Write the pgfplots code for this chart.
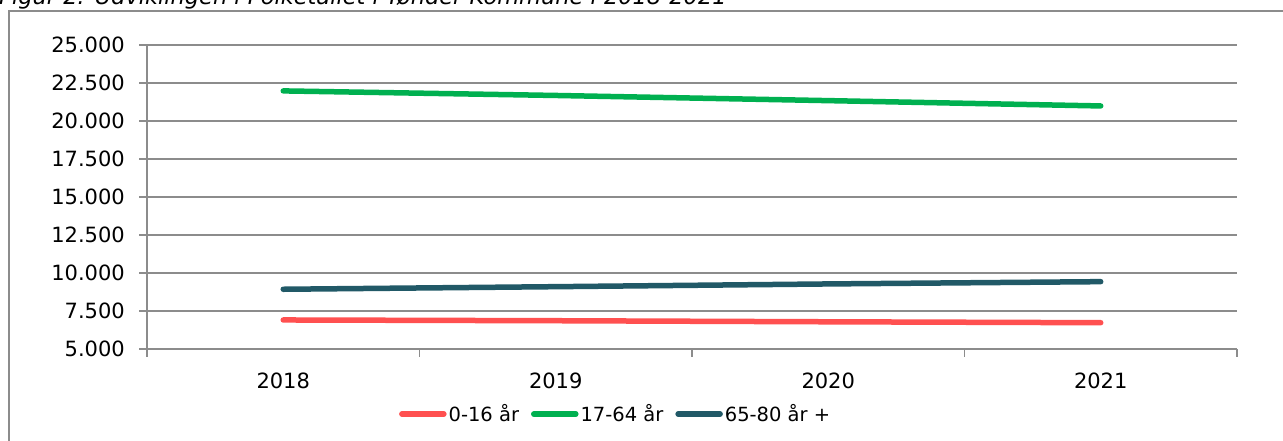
\documentclass[border=0pt]{standalone}
\usepackage{fontspec}
\setmainfont{DejaVu Sans}
\usepackage{pgfplots}
\pgfplotsset{compat=1.18}
\definecolor{gridgray}{HTML}{8C8C8C}
\definecolor{lred}{HTML}{FF5050}
\definecolor{lgreen}{HTML}{00B050}
\definecolor{lteal}{HTML}{215967}
\begin{document}
\fontsize{21}{25}\selectfont
\begin{tikzpicture}
\useasboundingbox (0pt,0pt) rectangle (1283pt,441pt);
\clip (0pt,0pt) rectangle (1283pt,441pt);
\node[anchor=base west, inner sep=0, font=\fontsize{22.5}{26}\selectfont\itshape] at (-1pt,436pt) {Figur 2: Udviklingen i Folketallet i Tønder Kommune i 2018-2021};
\draw[gridgray, line width=1.5pt] (9pt,-10pt) -- (9pt,430pt) -- (1290pt,430pt);
\begin{axis}[
    at={(147pt,92pt)}, anchor=south west,
    scale only axis, width=1090pt, height=304pt,
    xmin=-0.5, xmax=3.5, ymin=5000, ymax=25000,
    ytick={5000,7500,...,25000},
    xtick={0,1,2,3}, xticklabels={2018,2019,2020,2021},
    minor xtick={-0.5,0.5,1.5,2.5,3.5},
    axis x line*=bottom, axis y line*=left,
    axis line style={gridgray, line width=1.5pt},
    ymajorgrids, grid style={gridgray, line width=1.5pt},
    tick align=outside, major tick length=8pt, minor tick length=8pt,
    every tick/.style={gridgray, line width=1.5pt},
    major x tick style={draw=none},
    tick label style={font=\fontsize{21}{25}\selectfont},
    yticklabel style={xshift=-7pt},
    xticklabel style={yshift=-9pt},
    scaled y ticks=false,
    /pgf/number format/.cd, 1000 sep={.}, assume math mode=true, /pgfplots/.cd,
    legend style={at={(0.43,-0.214)}, anchor=center, draw=none, fill=none,
        legend columns=3, font=\fontsize{19.5}{23}\selectfont,
        /tikz/every even column/.append style={column sep=10pt},
        nodes={inner sep=2pt}},
    legend image code/.code={\draw[#1, line width=5.5pt, line cap=round] (0pt,0pt) -- (42pt,0pt);},
]
\addplot[lred, line width=5.5pt, line cap=round] coordinates {(0,6910) (1,6860) (2,6790) (3,6730)};
\addlegendentry{0-16 år}
\addplot[lgreen, line width=5.5pt, line cap=round] coordinates {(0,21980) (1,21680) (2,21340) (3,20990)};
\addlegendentry{17-64 år}
\addplot[lteal, line width=5.5pt, line cap=round] coordinates {(0,8930) (1,9100) (2,9280) (3,9430)};
\addlegendentry{65-80 år +}
\end{axis}
\end{tikzpicture}
\end{document}
